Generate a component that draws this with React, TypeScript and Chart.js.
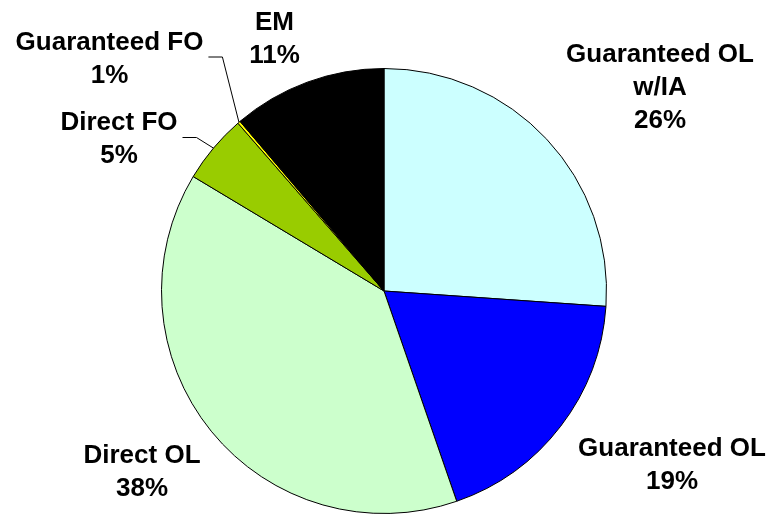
import React, { useEffect, useRef } from "react";
import { Chart, registerables } from "chart.js";

Chart.register(...registerables);

// ---- data ----
const categories = ["Guaranteed OL w/IA", "Guaranteed OL", "Direct OL", "Direct FO", "Guaranteed FO", "EM"];
const shares = [26.1, 18.6, 38.9, 5.0, 0.2, 11.2];
const nameLines = [["Guaranteed OL", "w/IA"], ["Guaranteed OL"], ["Direct OL"], ["Direct FO"], ["Guaranteed FO"], ["EM"]];
const percentLabels = ["26%", "19%", "38%", "5%", "1%", "11%"];

// ---- styles ----
const sliceColors = ["#CCFFFF", "#0000FF", "#CCFFCC", "#99CC00", "#FFFF00", "#000000"];
// label block centre, offset from pie centre (px)
const labelOffsets = [
  [276, -205],
  [288, 172],
  [-242, 179],
  [-265, -153.5],
  [-274.5, -234],
  [-109.5, -254],
];
const hasLeader = [false, false, false, true, true, false];
const FONT_SIZE = 26;
const LINE_H = 33;
const FONT = `bold ${FONT_SIZE}px "Liberation Sans", Arial, sans-serif`;

const labelPlugin = {
  id: "pieLabels",
  afterDatasetsDraw(chart: any) {
    const ctx = chart.ctx;
    const meta = chart.getDatasetMeta(0);
    ctx.save();
    ctx.font = FONT;
    ctx.fillStyle = "#000";
    ctx.textAlign = "center";
    ctx.textBaseline = "alphabetic";
    meta.data.forEach((el: any, i: number) => {
      const { x, y, startAngle, endAngle, outerRadius } = el.getProps(
        ["x", "y", "startAngle", "endAngle", "outerRadius"],
        true
      );
      const lines = [...nameLines[i], percentLabels[i]];
      const cx = x + labelOffsets[i][0];
      const cy = y + labelOffsets[i][1];
      const n = lines.length;
      let maxW = 0;
      lines.forEach((t, k) => {
        const ly = cy + (k - (n - 1) / 2) * LINE_H;
        ctx.fillText(t, cx, ly + 0.36 * FONT_SIZE);
        maxW = Math.max(maxW, ctx.measureText(t).width);
      });
      if (hasLeader[i]) {
        const mid = (startAngle + endAngle) / 2;
        const sx = x + Math.cos(mid) * outerRadius;
        const sy = y + Math.sin(mid) * outerRadius;
        const ex = cx + maxW / 2 + 5;
        const elbowX = ex + 14;
        ctx.beginPath();
        ctx.strokeStyle = "#000";
        ctx.lineWidth = 1;
        ctx.moveTo(ex, cy);
        ctx.lineTo(elbowX, cy);
        ctx.lineTo(sx, sy);
        ctx.stroke();
      }
    });
    ctx.restore();
  },
};

export default function App() {
  const ref = useRef<HTMLCanvasElement | null>(null);
  useEffect(() => {
    if (!ref.current) return;
    const chart = new Chart(ref.current, {
      type: "pie",
      data: {
        labels: categories,
        datasets: [
          {
            data: shares,
            backgroundColor: sliceColors,
            borderColor: "#000000",
            borderWidth: 1,
          },
        ],
      },
      options: {
        responsive: false,
        animation: false,
        layout: { padding: { left: 161, right: 165, top: 68, bottom: 2 } },
        plugins: {
          legend: { display: false },
          tooltip: { enabled: false },
          title: { display: false },
        },
      },
      plugins: [labelPlugin],
    });
    return () => chart.destroy();
  }, []);
  return (
    <div style={{ position: "absolute", left: 0, top: 0, width: 772, height: 516, background: "#fff" }}>
      <canvas ref={ref} width={772} height={516} />
    </div>
  );
}
